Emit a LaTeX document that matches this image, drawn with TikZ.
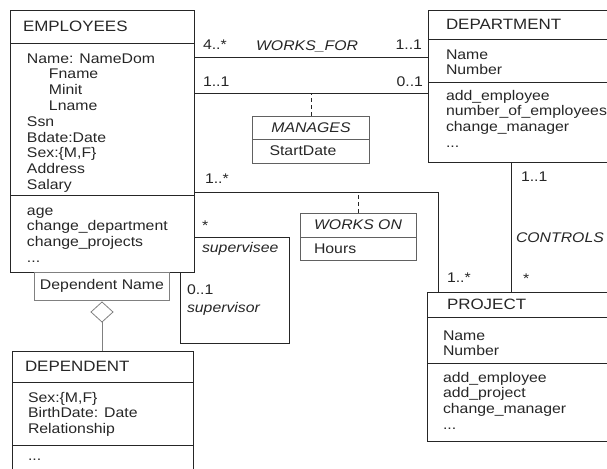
\documentclass[tikz,border=0pt]{standalone}
\usepackage{fontspec}
\setmainfont{Liberation Sans}[FakeStretch=1.13]
\usepackage{xcolor}
\usetikzlibrary{positioning,shapes.geometric}
\definecolor{ink}{gray}{0.15}
\definecolor{soft}{gray}{0.5}
\definecolor{assoc}{gray}{0.38}
\newcommand{\umlfont}{\fontsize{14}{15.8}\selectfont}
\newcommand{\umlhead}{\fontsize{15}{17}\selectfont}

\begin{document}
\begin{tikzpicture}[x=1pt,y=-1pt,
	every node/.style={text=ink, font=\umlfont, outer sep=0pt},
	classhead/.style 2 args={draw=ink, line width=0.8pt, text width=#1, inner xsep=#2, inner ysep=0pt, align=left, font=\umlhead},
	classpart/.style 2 args={draw=ink, line width=0.8pt, minimum width=#1, minimum height=#2, inner sep=0pt},
	assocpart/.style 2 args={draw=assoc, line width=0.8pt, minimum width=#1, minimum height=#2, inner sep=0pt},
	attrlist/.style={inner sep=0pt, align=left},
	multlbl/.style={inner sep=0pt},
	itlbl/.style={inner sep=0pt, font=\umlfont\itshape},
	assocline/.style={draw=ink, line width=0.8pt},
	dashline/.style={draw=ink, line width=0.8pt, dash pattern=on 4pt off 3pt},
	softline/.style={draw=soft, line width=0.8pt},
	qualbox/.style={draw=soft, line width=0.8pt, minimum width=135, minimum height=28, inner sep=0pt},
	aggdiamond/.style={diamond, draw=soft, fill=white, line width=0.8pt, minimum width=22, minimum height=20, inner sep=0pt}]
	\useasboundingbox (0,0) rectangle (607,468);
	\clip (0,0) rectangle (607,468);

	\node[classhead={158pt}{13pt}, minimum height=33, anchor=north west] (emp) at (10,10) {EMPLOYEES};
	\node[classpart={184}{152}, below=0pt of emp] (empatt) {};
	\node[classpart={184}{77}, below=0pt of empatt] (empops) {};
	\node[attrlist, below right=9pt and 17pt of empatt.north west] (empattl) {\strut Name: NameDom\\\hspace*{22pt}Fname\\\hspace*{22pt}Minit\\\hspace*{22pt}Lname\\Ssn\\Bdate:Date\\Sex:\{M,F\}\\Address\\Salary};
	\node[attrlist, below right=9pt and 17pt of empops.north west] (empopsl) {\strut age\\change\_department\\change\_projects\\...};

	\node[classhead={164pt}{18pt}, minimum height=29, anchor=north west] (dept) at (428,10) {DEPARTMENT};
	\node[classpart={200}{43}, below=0pt of dept] (deptatt) {};
	\node[classpart={200}{80}, below=0pt of deptatt] (deptops) {};
	\node[attrlist, below right=9pt and 18pt of deptatt.north west] (deptattl) {\strut Name\\Number};
	\node[attrlist, below right=7pt and 18pt of deptops.north west] (deptopsl) {\strut add\_employee\\number\_of\_employees\\change\_manager\\...};

	\node[classhead={160pt}{20pt}, minimum height=25, anchor=north west] (proj) at (427,292) {PROJECT};
	\node[classpart={200}{46}, below=0pt of proj] (projatt) {};
	\node[classpart={200}{78}, below=0pt of projatt] (projops) {};
	\node[attrlist, below right=12pt and 16pt of projatt.north west] (projattl) {\strut Name\\Number};
	\node[attrlist, below right=8pt and 16pt of projops.north west] (projopsl) {\strut add\_employee\\add\_project\\change\_manager\\...};

	\node[classhead={155pt}{13pt}, minimum height=31, anchor=north west] (dep) at (12,351) {DEPENDENT};
	\node[classpart={181}{63}, below=0pt of dep] (depatt) {};
	\node[classpart={181}{40}, below=0pt of depatt] (depops) {};
	\node[attrlist, below right=9pt and 16pt of depatt.north west] (depattl) {\strut Sex:\{M,F\}\\BirthDate: Date\\Relationship};
	\node[attrlist, below right=4pt and 16pt of depops.north west] (depopsl) {\strut ...};

	\node[qualbox, below=0pt of empops] (depname) {Dependent Name};
	\node[aggdiamond, below=2pt of depname] (agg) {};
	\draw[softline] (agg) -- (agg |- dep.north);

	\draw[assocline] ([yshift=-14pt]empatt.north east) node[multlbl, above right=7pt and 9pt] (wfemp) {4..*}
		-- node[itlbl, pos=.483, above=5pt] (wfname) {WORKS\_FOR}
		([yshift=-18pt]deptatt.north west) node[multlbl, above left=7pt and 6pt] (wfdept) {1..1};

	\draw[assocline] ([yshift=-50pt]empatt.north east) node[multlbl, above right=6pt and 9pt] (mgemp) {1..1}
		-- coordinate[pos=.5] (mgmid)
		([yshift=-11pt]deptops.north west) node[multlbl, above left=6pt and 5pt] (mgdept) {0..1};
	\node[assocpart={117}{23}, font=\umlfont\itshape, below=23pt of mgmid] (mgr) {MANAGES};
	\node[assocpart={117}{24}, text width=83pt, inner xsep=17pt, align=left, below=0pt of mgr] (mgrattr) {StartDate};
	\draw[dashline] (mgr) -- (mgmid);

	\draw[assocline] ([yshift=3pt]empops.north east) coordinate (wol) node[multlbl, above right=9pt and 11pt] (woemp) {1..*}
		-| ([xshift=11pt]proj.north west) node[multlbl, above right=10pt and 9pt] (woproj) {1..*};
	\node[assocpart={116}{24}, font=\umlfont\itshape, anchor=north] (wo) at (358,213) {WORKS ON};
	\node[assocpart={116}{23}, text width=88pt, inner xsep=14pt, align=left, below=0pt of wo] (woattr) {Hours};
	\draw[dashline] (wo) -- (wo |- wol);

	\draw[assocline] ([xshift=83pt]deptops.south west) node[multlbl, below right=10pt and 10pt] (ctdept) {1..1}
		-- node[itlbl, pos=.58, right=5pt] (ctname) {CONTROLS}
		([xshift=83pt]deptops.south west |- proj.north) node[multlbl, above right=9pt and 12pt] (ctproj) {*};

	\draw[assocline] ([yshift=-42pt]empops.north east) node[multlbl, above right=7pt and 8pt] (svstar) {*}
		node[itlbl, below right=5pt and 8pt] (svee) {supervisee}
		-- ++(95pt,0) -- ++(0,-106pt)
		-| ([xshift=-14pt]empops.south east) node[multlbl, below right=13pt and 7pt] (svone) {0..1}
		node[itlbl, below right=30pt and 7pt] (svor) {supervisor};
\end{tikzpicture}
\end{document}
